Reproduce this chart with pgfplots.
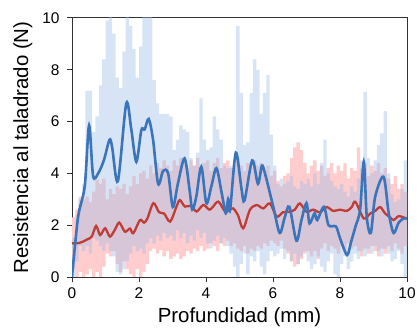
\documentclass[border=0pt]{standalone}
\usepackage{pgfplots}
\pgfplotsset{compat=1.18}
\usepgfplotslibrary{fillbetween}
\usetikzlibrary{calc}
\usepackage{pgfplotstable}
\usepackage{fontspec}
\setmainfont{Liberation Sans}
\definecolor{bandblue}{RGB}{155,188,230}
\definecolor{bandpink}{RGB}{255,205,205}
\definecolor{lineblue}{RGB}{58,117,187}
\definecolor{linered}{RGB}{192,60,55}
\pgfplotstableread{
x bu bl pu pl
0.0 1.5 0.0 2.3 0.3
0.1 2.4 0.6 2.6 0.0
0.2 3.0 1.2 3.1 0.2
0.3 3.6 1.0 3.0 0.0
0.4 7.2 1.2 3.1 0.1
0.5 7.2 0.9 2.9 0.3
0.6 5.6 1.5 3.3 0.0
0.7 6.2 1.4 3.75 0.2
0.8 7.4 1.2 3.6 0.0
0.9 8.4 1.0 3.8 0.4
1.0 9.9 1.3 3.0 0.9
1.1 10.5 1.0 3.4 0.8
1.2 9.4 0.8 3.2 1.0
1.3 7.7 0.2 3.5 0.5
1.4 7.3 0.1 3.4 0.2
1.5 8.7 0.3 3.6 0.6
1.6 10.5 0.6 3.2 0.3
1.7 9.7 0.9 3.5 0.1
1.8 8.8 1.2 3.9 0.0
1.9 7.7 1.0 3.6 0.3
2.0 8.9 1.1 4.0 0.0
2.1 10.5 0.9 4.1 0.2
2.2 10.5 1.3 3.8 0.5
2.3 10.5 1.5 4.3 1.0
2.4 7.6 1.3 4.0 1.1
2.5 6.7 1.6 4.4 0.9
2.6 6.3 1.4 4.2 1.05
2.7 6.3 1.7 4.5 0.8
2.8 6.3 1.5 4.3 1.0
2.9 6.2 1.6 4.1 0.7
3.0 4.9 1.4 4.5 0.8
3.1 5.3 1.8 4.3 0.9
3.2 5.85 1.5 4.6 0.7
3.3 5.7 1.7 4.4 0.8
3.4 5.6 1.3 4.2 1.0
3.5 4.6 1.6 4.5 0.9
3.6 4.3 1.4 4.3 1.1
3.7 4.8 1.8 4.6 1.0
3.8 6.9 1.5 4.2 1.2
3.9 5.3 1.7 4.4 1.0
4.0 4.9 1.3 4.5 1.1
4.1 5.0 1.1 4.1 1.3
4.2 6.2 1.4 4.4 1.2
4.3 5.7 1.6 4.6 1.0
4.4 5.3 1.3 4.2 1.3
4.5 4.3 1.5 4.4 1.2
4.6 4.2 1.2 4.5 1.4
4.7 4.3 0.9 4.2 1.2
4.8 4.4 0.4 4.3 1.3
4.9 9.7 0.0 4.6 1.1
5.0 7.1 0.5 4.3 1.0
5.1 5.1 0.9 4.1 1.2
5.2 5.2 0.1 4.4 0.9
5.3 7.1 0.8 4.2 1.1
5.4 8.4 0.6 4.5 1.0
5.5 8.0 1.0 4.3 1.2
5.6 6.3 0.4 4.4 1.1
5.7 7.1 0.1 4.1 1.3
5.8 7.8 0.6 4.3 1.2
5.9 5.5 1.0 3.9 1.4
6.0 4.3 0.8 4.1 1.3
6.1 3.6 0.9 3.7 1.2
6.2 3.8 1.1 3.5 1.4
6.3 3.6 0.7 3.9 1.1
6.4 3.7 1.0 4.0 0.9
6.5 3.9 0.6 4.6 0.6
6.6 3.5 0.9 5.0 0.4
6.7 3.4 0.5 5.2 0.5
6.8 3.7 0.8 4.9 0.7
6.9 3.6 1.0 4.4 0.9
7.0 3.8 0.6 4.0 1.0
7.1 3.5 0.3 4.3 0.8
7.2 4.0 0.5 4.5 1.0
7.3 3.6 0.8 4.1 0.7
7.4 4.4 0.4 4.3 1.1
7.5 5.3 0.2 3.9 1.3
7.6 4.0 0.6 4.2 1.0
7.7 3.7 0.9 4.4 1.2
7.8 3.5 0.1 4.0 1.1
7.9 3.4 0.0 4.3 0.9
8.0 3.6 0.5 4.1 1.2
8.1 3.3 0.8 4.4 1.0
8.2 3.1 0.3 3.8 1.3
8.3 3.5 0.6 4.2 1.1
8.4 3.3 0.9 4.1 1.2
8.5 3.8 0.7 5.0 1.0
8.6 4.5 1.0 4.2 0.8
8.7 7.15 0.8 4.4 1.1
8.8 4.6 1.1 3.9 0.9
8.9 4.0 0.9 4.3 1.2
9.0 4.5 1.2 4.1 1.0
9.1 5.1 1.0 4.4 0.8
9.2 5.55 0.8 4.0 1.1
9.3 6.4 1.1 4.2 0.9
9.4 4.0 0.9 3.8 1.2
9.5 3.2 0.6 3.6 1.0
9.6 2.9 0.7 3.9 1.3
9.7 3.0 1.0 3.4 1.1
9.8 3.4 0.5 3.6 0.9
9.9 4.5 0.0 3.3 1.2
10.0 4.5 0.0 3.3 1.2
}\bands
\begin{document}
\begin{tikzpicture}
\begin{axis}[
  scale only axis, width=335bp, height=259bp,
  xmin=0, xmax=10, ymin=0, ymax=10,
  xtick={0,2,...,10}, ytick={0,2,...,10},
  tick pos=left, tick align=outside, major tick length=5bp,
  axis line style={black!80, line width=1pt},
  tick style={black!80, line width=1pt},
  /pgf/number format/assume math mode=true,
  ticklabel style={font=\fontsize{15.5}{18}\selectfont},
  yticklabel style={xshift=-4bp},
  xticklabel style={yshift=-2bp},
  label style={font=\fontsize{20.5}{24}\selectfont},
  xlabel={Profundidad (mm)},
  ylabel={Resistencia al taladrado (N)},
  xlabel style={at={(axis description cs:0.5,-0.106)}, anchor=north},
  ylabel style={at={(axis description cs:-0.1075,0.5)}, anchor=south},
]
\addplot[name path=pu, draw=none, const plot, forget plot] table[x=x,y=pu]{\bands};
\addplot[name path=pl, draw=none, const plot, forget plot] table[x=x,y=pl]{\bands};
\addplot[fill=bandpink, draw=none, forget plot] fill between[of=pu and pl];
\addplot[name path=bu, draw=none, const plot, forget plot] table[x=x,y=bu]{\bands};
\addplot[name path=bl, draw=none, const plot, forget plot] table[x=x,y=bl]{\bands};
\addplot[fill=bandblue, fill opacity=0.4, draw=none, forget plot] fill between[of=bu and bl];
\addplot[linered, line width=2.3bp, smooth] coordinates {
(0,1.3) (0.14,1.3) (0.3,1.35) (0.45,1.45) (0.59,1.56) (0.72,1.97) (0.84,1.62) (0.99,1.88) (1.13,1.56) (1.27,1.8) (1.41,2.1) (1.58,1.75) (1.73,1.87) (1.83,1.69) (2.03,2.2) (2.15,2.1) (2.25,2.26) (2.43,2.85) (2.6,2.5) (2.75,2.45) (2.93,2.14) (3.12,2.72) (3.22,2.97) (3.37,2.72) (3.55,2.75) (3.72,2.53) (3.92,2.78) (4.1,2.6) (4.2,2.7) (4.37,2.91) (4.57,2.53) (4.72,2.6) (4.81,2.65) (4.95,2.4) (5.11,1.88) (5.31,2.59) (5.51,2.78) (5.71,2.65) (5.91,2.84) (6.11,2.33) (6.3,2.5) (6.5,2.52) (6.65,2.6) (6.8,2.84) (7.0,2.52) (7.2,2.6) (7.4,2.5) (7.6,2.7) (7.8,2.55) (8.0,2.6) (8.2,2.55) (8.35,2.7) (8.46,2.9) (8.71,2.26) (8.9,2.45) (9.05,2.55) (9.2,2.7) (9.35,2.45) (9.5,2.3) (9.6,2.2) (9.75,2.35) (9.9,2.3) (10,2.25)
};
\addplot[lineblue, line width=2.6bp, smooth] coordinates {
(0,0) (0.18,2.3) (0.38,3.5) (0.51,5.85) (0.63,3.9) (0.78,4.0) (0.95,4.5) (1.12,5.3) (1.2,5.0) (1.37,3.7) (1.62,6.7) (1.77,5.7) (1.92,4.45) (2.07,5.67) (2.17,5.7) (2.29,6.1) (2.42,5.3) (2.57,3.6) (2.72,4.1) (2.87,4.0) (3.01,2.7) (3.16,3.6) (3.36,4.58) (3.51,3.36) (3.59,2.6) (3.71,3.1) (3.86,4.26) (4.01,2.85) (4.16,3.5) (4.31,4.2) (4.46,3.3) (4.59,2.46) (4.66,3.0) (4.72,2.6) (4.89,4.8) (5.06,3.4) (5.15,2.95) (5.38,4.5) (5.55,3.6) (5.67,4.3) (5.77,3.95) (6.01,2.7) (6.2,1.7) (6.35,2.3) (6.49,2.71) (6.7,1.4) (6.85,2.2) (7.0,2.85) (7.09,2.07) (7.24,2.46) (7.32,2.2) (7.52,2.71) (7.66,2.0) (7.88,1.95) (8.0,1.5) (8.21,0.85) (8.33,1.35) (8.46,1.94) (8.6,2.6) (8.71,4.45) (8.8,2.3) (8.92,1.7) (9.05,3.1) (9.3,3.87) (9.45,2.5) (9.6,1.7) (9.75,2.1) (9.9,2.26) (10,2.26)
};
\end{axis}
\pgfresetboundingbox
\path ($(current axis.south west)+(-72bp,-54bp)$) rectangle ($(current axis.north east)+(10bp,18bp)$);
\end{tikzpicture}
\end{document}
